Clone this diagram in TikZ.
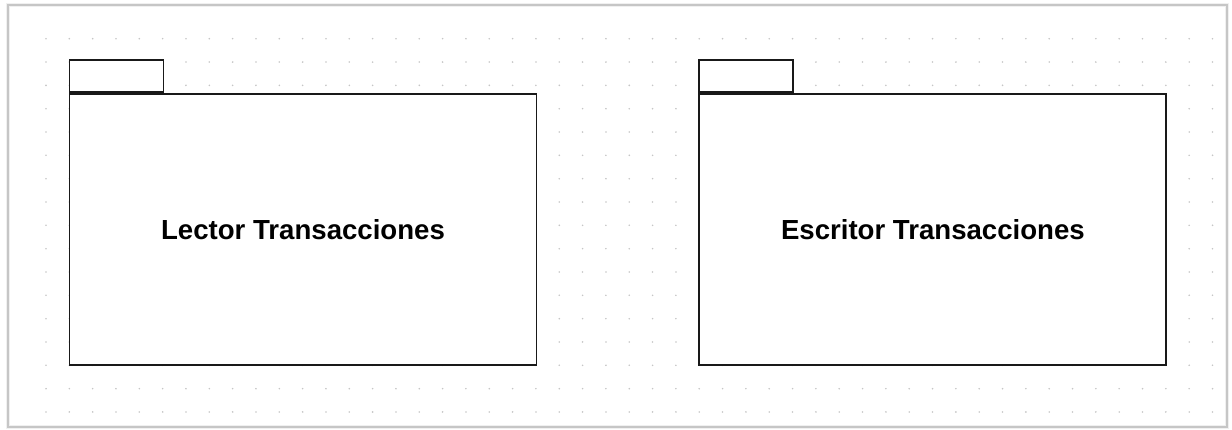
\documentclass[tikz,border=0pt]{standalone}
\usepackage{fontspec}
\setmainfont{Liberation Sans}
\usetikzlibrary{positioning}
\tikzset{
    pkg_body/.style={
        draw=black!90,
        fill=white,
        line width=1.9pt,
        minimum width=467pt,
        minimum height=271pt,
        inner sep=0pt,
        font=\fontsize{27.6}{30}\selectfont\bfseries
    },
    pkg_tab/.style={
        draw=black!90,
        fill=white,
        line width=1.9pt,
        minimum width=94pt,
        minimum height=32pt,
        inner sep=0pt
    },
    grid_dot/.style={fill=gray!45}
}

\begin{document}
\begin{tikzpicture}[x=1pt, y=-1pt]
    \useasboundingbox (0, 0) rectangle (1232, 430);

    % Canvas frame with soft shadow
    \draw[gray!12, line width=4pt] (8, 5) rectangle (1227, 427);
    \draw[gray!45, line width=1.2pt] (8, 5) rectangle (1227, 427);

    % Dotted grid
    \foreach \i in {0,...,50} {
        \foreach \j in {0,...,16} {
            \fill[grid_dot] (46 + 23.33*\i, 38.7 + 23.33*\j) circle (0.9pt);
        }
    }

    % Package 1 : Lector
    \node[pkg_body] (lector) at (303, 229.5) {Lector Transacciones};
    \node[pkg_tab, anchor=south west] (lectortab) at (lector.north west) {};

    % Package 2 : Escritor
    \node[pkg_body, right=161pt of lector] (escritor) {Escritor Transacciones};
    \node[pkg_tab, anchor=south west] (escritortab) at (escritor.north west) {};
\end{tikzpicture}
\end{document}
